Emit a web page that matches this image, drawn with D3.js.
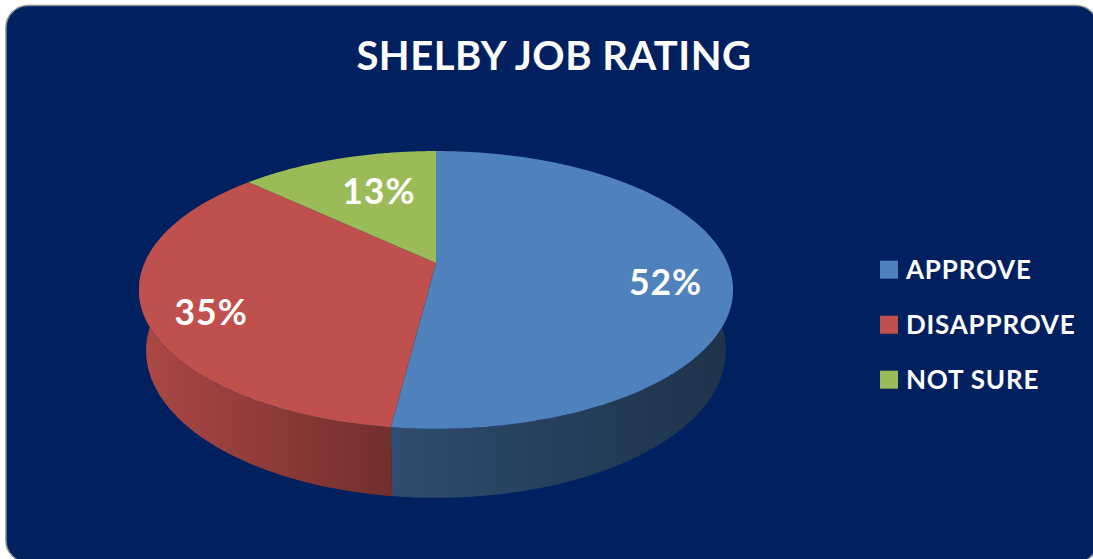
<!DOCTYPE html>
<html>
<head>
<meta charset="utf-8">
<script src="https://cdn.jsdelivr.net/npm/d3@7"></script>
<style>
    html, body { margin: 0; padding: 0; background: #fff; }
    svg { display: block; font-family: Lato, "Open Sans", sans-serif; }
</style>
</head>
<body>
<div id="chart"></div>
<script>
const title = "SHELBY JOB RATING";
const categories = ["APPROVE", "DISAPPROVE", "NOT SURE"];
const values = [52, 35, 13];
const colors = ["#4F81BD", "#C0504D", "#9BBB59"];

const W = 1093, H = 559;
const svg = d3.select("#chart").append("svg").attr("width", W).attr("height", H);
const defs = svg.append("defs");

// chart area
svg.append("rect")
    .attr("x", 6).attr("y", 5.5).attr("width", 1092).attr("height", 557).attr("rx", 22)
    .attr("fill", "#002060").attr("stroke", "#8c8c8c").attr("stroke-width", 1.5);

svg.append("text")
    .attr("x", 554).attr("y", 70)
    .attr("text-anchor", "middle")
    .attr("fill", "#fff").attr("font-weight", 700).attr("font-size", 40)
    .attr("letter-spacing", 0.5)
    .text(title);

// 3D pie: disc seen from above with a bit of perspective
const cx = 436, cy = 263, scaleR = 291.4;
const tilt = 27.3 * Math.PI / 180, persp = 0.218, thick = 0.2365;

function project(a, k, h) {
    const x = k * Math.sin(a), z = k * Math.cos(a);
    const d = 1 + persp * (z * Math.cos(tilt) - h * Math.sin(tilt));
    return [cx + scaleR * x / d, cy - scaleR * (z * Math.sin(tilt) + h * Math.cos(tilt)) / d];
}

function arcPts(a0, a1, k, h) {
    const n = Math.max(2, Math.ceil(Math.abs(a1 - a0) / (Math.PI / 360)));
    return d3.range(n + 1).map(i => project(a0 + (a1 - a0) * i / n, k, h));
}

const arcs = d3.pie().sort(null).value(d => d)(values);
const line = d3.line().curve(d3.curveLinearClosed);

// side shading goes darker to the right
const shade = d3.scaleLinear().domain([139, 390, 733]).range([0.9, 0.585, 0.39]);
colors.forEach((c, i) => {
    const g = defs.append("linearGradient").attr("id", "side-" + i)
        .attr("gradientUnits", "userSpaceOnUse")
        .attr("x1", 139).attr("x2", 733).attr("y1", 0).attr("y2", 0);
    d3.range(11).forEach(j => {
        const x = 139 + (733 - 139) * j / 10;
        const base = d3.rgb(c), f = shade(x);
        g.append("stop").attr("offset", j / 10)
            .attr("stop-color", d3.rgb(base.r * f, base.g * f, base.b * f).formatHex());
    });
});

const lo = 60 * Math.PI / 180, hi = 300 * Math.PI / 180;
svg.append("g").selectAll("path")
    .data(arcs.filter(d => Math.max(d.startAngle, lo) < Math.min(d.endAngle, hi)))
    .join("path")
    .attr("fill", d => `url(#side-${d.index})`)
    .attr("d", d => {
        const a0 = Math.max(d.startAngle, lo), a1 = Math.min(d.endAngle, hi);
        return line(arcPts(a0, a1, 1, 0).concat(arcPts(a0, a1, 1, -thick).reverse()));
    });

svg.append("g").selectAll("path")
    .data(arcs)
    .join("path")
    .attr("fill", d => colors[d.index])
    .attr("d", d => line([[cx, cy]].concat(arcPts(d.startAngle, d.endAngle, 1, 0))));

// data labels, pushed away from the slice edges when they get too close
const labelSize = 35.5, pad = 21;
const labels = svg.append("g").selectAll("text")
    .data(arcs)
    .join("text")
    .attr("text-anchor", "middle")
    .attr("fill", "#fff").attr("font-weight", 700).attr("font-size", labelSize)
    .attr("letter-spacing", 1)
    .text(d => d.data + "%");

labels.each(function(d) {
    const mid = (d.startAngle + d.endAngle) / 2;
    const p = project(mid, 0.78, 0);
    let x = p[0];
    const y = p[1] + 25;
    const w = this.getBBox().width, capH = labelSize * 0.72;
    if (d.endAngle - d.startAngle < Math.PI) {
        const m = project(mid, 0.5, 0);
        [d.startAngle, d.endAngle].forEach(a => {
            const q = project(a, 1, 0);
            let n = [-(q[1] - cy), q[0] - cx];
            const len = Math.hypot(n[0], n[1]);
            n = [n[0] / len, n[1] / len];
            if (n[0] * (m[0] - cx) + n[1] * (m[1] - cy) < 0) n = [-n[0], -n[1]];
            const corners = [[x - w / 2, y - capH], [x + w / 2, y - capH], [x - w / 2, y], [x + w / 2, y]];
            const dist = d3.min(corners, c => n[0] * (c[0] - cx) + n[1] * (c[1] - cy));
            if (dist < pad && Math.abs(n[0]) > 0.05) x += (pad - dist) / n[0];
        });
    }
    d3.select(this).attr("x", x + 0.5).attr("y", y);
});

// legend
const ly = d3.scalePoint().domain(categories).range([279, 389]);
const legend = svg.append("g").selectAll("g")
    .data(categories)
    .join("g")
    .attr("transform", d => `translate(880,${ly(d)})`);
legend.append("rect")
    .attr("y", -18.3).attr("width", 18).attr("height", 18)
    .attr("fill", (d, i) => colors[i]);
legend.append("text")
    .attr("x", 26)
    .attr("fill", "#fff").attr("font-weight", 700).attr("font-size", 26)
    .attr("letter-spacing", 0.8)
    .text(d => d);
</script>
</body>
</html>
